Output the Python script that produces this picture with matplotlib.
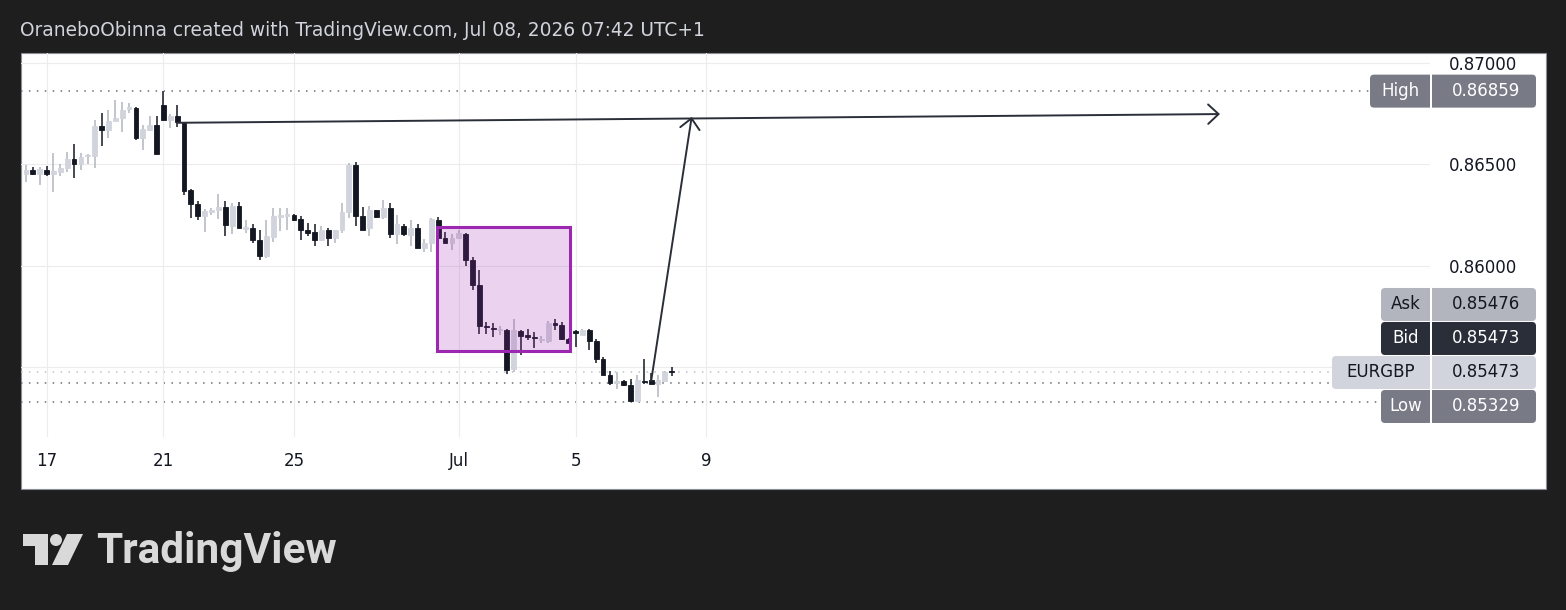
import matplotlib
matplotlib.use("Agg")
import matplotlib.pyplot as plt
from matplotlib.patches import Rectangle, FancyBboxPatch, Polygon, Circle

W, H, DPI = 1566, 610, 100

# EURGBP 4h candles
opens = [
    0.86451, 0.86470, 0.86451, 0.86470, 0.86451, 0.86461, 0.86480, 0.86525, 0.86500, 0.86539,
    0.86539, 0.86687, 0.86667, 0.86712, 0.86727, 0.86771, 0.86776, 0.86628, 0.86667, 0.86692,
    0.86791, 0.86717, 0.86736, 0.86702, 0.86372, 0.86303, 0.86244, 0.86264, 0.86273, 0.86288,
    0.86195, 0.86293, 0.86180, 0.86185, 0.86126, 0.86047, 0.86140, 0.86239, 0.86244, 0.86249,
    0.86229, 0.86175, 0.86165, 0.86126, 0.86175, 0.86135, 0.86175, 0.86264, 0.86495, 0.86244,
    0.86185, 0.86273, 0.86239, 0.86283, 0.86155, 0.86195, 0.86150, 0.86185, 0.86086, 0.86111,
    0.86224, 0.86135, 0.86111, 0.86135, 0.86155, 0.86027, 0.85904, 0.85702, 0.85692, 0.85682,
    0.85682, 0.85490, 0.85677, 0.85658, 0.85648, 0.85633, 0.85628, 0.85717, 0.85707, 0.85638,
    0.85677, 0.85658, 0.85682, 0.85628, 0.85539, 0.85461, 0.85421, 0.85431, 0.85411, 0.85333,
    0.85431, 0.85436, 0.85416, 0.85431, 0.85478]
highs = [
    0.86495, 0.86485, 0.86485, 0.86490, 0.86554, 0.86500, 0.86559, 0.86599, 0.86554, 0.86549,
    0.86717, 0.86751, 0.86766, 0.86815, 0.86805, 0.86800, 0.86781, 0.86692, 0.86736, 0.86736,
    0.86859, 0.86746, 0.86791, 0.86707, 0.86377, 0.86318, 0.86278, 0.86283, 0.86352, 0.86318,
    0.86308, 0.86313, 0.86224, 0.86204, 0.86175, 0.86224, 0.86283, 0.86283, 0.86283, 0.86254,
    0.86244, 0.86209, 0.86204, 0.86195, 0.86185, 0.86175, 0.86308, 0.86505, 0.86510, 0.86288,
    0.86293, 0.86273, 0.86323, 0.86308, 0.86249, 0.86204, 0.86224, 0.86204, 0.86131, 0.86234,
    0.86239, 0.86165, 0.86155, 0.86175, 0.86160, 0.86042, 0.85978, 0.85722, 0.85717, 0.85702,
    0.85687, 0.85736, 0.85682, 0.85687, 0.85672, 0.85653, 0.85727, 0.85736, 0.85722, 0.85643,
    0.85682, 0.85687, 0.85687, 0.85638, 0.85549, 0.85480, 0.85475, 0.85436, 0.85441, 0.85461,
    0.85539, 0.85470, 0.85461, 0.85480, 0.85500]
lows = [
    0.86411, 0.86446, 0.86397, 0.86441, 0.86362, 0.86441, 0.86461, 0.86431, 0.86470, 0.86500,
    0.86480, 0.86589, 0.86628, 0.86712, 0.86658, 0.86751, 0.86618, 0.86569, 0.86662, 0.86549,
    0.86717, 0.86677, 0.86682, 0.86347, 0.86234, 0.86224, 0.86165, 0.86249, 0.86229, 0.86145,
    0.86155, 0.86185, 0.86160, 0.86111, 0.86027, 0.86037, 0.86116, 0.86170, 0.86175, 0.86219,
    0.86126, 0.86145, 0.86096, 0.86121, 0.86096, 0.86111, 0.86160, 0.86234, 0.86195, 0.86175,
    0.86145, 0.86234, 0.86229, 0.86135, 0.86106, 0.86145, 0.86096, 0.86086, 0.86067, 0.86067,
    0.86135, 0.86111, 0.86076, 0.86131, 0.85998, 0.85879, 0.85663, 0.85663, 0.85648, 0.85658,
    0.85466, 0.85475, 0.85559, 0.85633, 0.85594, 0.85618, 0.85618, 0.85682, 0.85633, 0.85618,
    0.85599, 0.85658, 0.85584, 0.85520, 0.85461, 0.85411, 0.85392, 0.85406, 0.85329, 0.85333,
    0.85416, 0.85416, 0.85352, 0.85431, 0.85456]
closes = [
    0.86470, 0.86451, 0.86475, 0.86451, 0.86466, 0.86480, 0.86525, 0.86500, 0.86534, 0.86544,
    0.86687, 0.86667, 0.86712, 0.86727, 0.86766, 0.86781, 0.86628, 0.86672, 0.86692, 0.86549,
    0.86717, 0.86736, 0.86707, 0.86367, 0.86303, 0.86244, 0.86268, 0.86273, 0.86288, 0.86200,
    0.86293, 0.86185, 0.86190, 0.86126, 0.86047, 0.86145, 0.86244, 0.86249, 0.86254, 0.86224,
    0.86175, 0.86160, 0.86126, 0.86175, 0.86135, 0.86175, 0.86264, 0.86495, 0.86244, 0.86175,
    0.86273, 0.86239, 0.86283, 0.86155, 0.86204, 0.86155, 0.86185, 0.86086, 0.86111, 0.86229,
    0.86135, 0.86111, 0.86135, 0.86160, 0.86027, 0.85904, 0.85702, 0.85697, 0.85687, 0.85687,
    0.85485, 0.85682, 0.85653, 0.85648, 0.85643, 0.85638, 0.85717, 0.85707, 0.85638, 0.85618,
    0.85667, 0.85682, 0.85628, 0.85539, 0.85461, 0.85421, 0.85431, 0.85411, 0.85333, 0.85436,
    0.85426, 0.85416, 0.85436, 0.85475, 0.85473]

time_ticks = [3, 20, 39, 63, 80, 99]
time_labels = ["17", "21", "25", "Jul", "5", "9"]
price_ticks = [0.855, 0.860, 0.865, 0.870]
price_labels = ["", "0.86000", "0.86500", "0.87000"]

high_price = 0.86859
low_price = 0.85329
ask_price = 0.85476
bid_price = 0.85473
last_price = 0.85473
prev_price = 0.85421

# drawings on the chart (bar index, price)
zone_x = (59.8, 79.2)
zone_y = (0.85581, 0.86190)
target_line = [(22.0, 0.86703), (173.8, 0.86746)]
swing_arrow = [(91.0, 0.85431), (96.9, 0.86732)]

header = "OraneboObinna created with TradingView.com, Jul 08, 2026 07:42 UTC+1"

plt.rcParams["lines.scale_dashes"] = False
plt.rcParams["font.family"] = ["DejaVu Sans"]

BG = "#1e1e1e"
INK = "#131722"
UP = "#d1d4dc"
UP_WICK = "#b2b5be"
GRID = "#ececec"


def px_box(x0, y0, x1, y1):
    return [x0 / W, 1 - y1 / H, (x1 - x0) / W, (y1 - y0) / H]


fig = plt.figure(figsize=(W / DPI, H / DPI), dpi=DPI, facecolor=BG)

# background layer (pixel coords)
bg = fig.add_axes([0, 0, 1, 1], zorder=0)
bg.set_xlim(0, W)
bg.set_ylim(H, 0)
bg.axis("off")
bg.add_patch(Rectangle((20.5, 52.5), 1525, 436, facecolor="white",
                       edgecolor="#8a8d96", lw=0.8))

# price pane
ax = fig.add_axes(px_box(21, 53, 1430, 437), zorder=1)
ax.set_facecolor("none")
ax.set_xlim(-0.728, 204.37)
ax.set_ylim(0.851552, 0.870468)
for s in ax.spines.values():
    s.set_visible(False)
ax.set_xticks(time_ticks, time_labels)
ax.set_yticks(price_ticks, price_labels)
ax.yaxis.tick_right()
ax.tick_params(axis="x", length=0, pad=11, labelsize=12, labelcolor=INK)
ax.tick_params(axis="y", length=0, pad=13.5, labelsize=12, labelcolor=INK)
ax.grid(True, color=GRID, lw=0.8, zorder=0)

idx = list(range(len(opens)))
up = [c >= o for o, c in zip(opens, closes)]
wick_col = [UP_WICK if u else INK for u in up]
body_col = [UP if u else INK for u in up]
bottoms = [min(o, c) for o, c in zip(opens, closes)]
heights = [max(abs(c - o), 0.00005) for o, c in zip(opens, closes)]

ax.vlines(idx, lows, highs, colors=wick_col, lw=1.1, zorder=2)
ax.bar(idx, heights, bottom=bottoms, width=0.7, color=body_col,
       edgecolor=body_col, lw=0.6, zorder=3)

dots = (0, (1.1, 4.6))
for p, col in [(high_price, "#6a6d78"), (low_price, "#6a6d78"),
               (prev_price, "#6a6d78"), (last_price, "#bfc2c9")]:
    ax.axhline(p, color=col, lw=1.1, linestyle=dots, zorder=1)

ax.add_patch(Rectangle((zone_x[0], zone_y[0]), zone_x[1] - zone_x[0], zone_y[1] - zone_y[0],
                       facecolor=(156 / 255, 39 / 255, 176 / 255, 0.2),
                       edgecolor="#9c27b0", lw=2.2, zorder=5))

for (x0, y0), (x1, y1) in [target_line, swing_arrow]:
    ax.annotate("", xy=(x1, y1), xytext=(x0, y0),
                arrowprops=dict(arrowstyle="->,head_length=0.75,head_width=0.7",
                                color="#2a2e39", lw=1.4, shrinkA=0, shrinkB=0),
                zorder=6)

# overlay (pixel coords): header, price labels, logo
ov = fig.add_axes([0, 0, 1, 1], zorder=3)
ov.set_xlim(0, W)
ov.set_ylim(H, 0)
ov.axis("off")

ov.text(20, 31, header, color="#d1d4dc", fontsize=13.4, ha="left", va="center")


def price_to_px(p):
    return H - ax.transData.transform((0, p))[1]


bh = 34
y_last = price_to_px(last_price)
tags = [
    ("High", high_price, price_to_px(high_price), 1370, "#787b86", "white"),
    ("Ask", ask_price, y_last - 2 * bh, 1381, "#b2b5be", INK),
    ("Bid", bid_price, y_last - bh, 1381, "#2a2e39", "white"),
    ("EURGBP", last_price, y_last, 1332, UP, INK),
    ("Low", low_price, max(price_to_px(low_price), y_last + bh), 1381, "#787b86", "white"),
]
for name, val, yc, left, face, tc in tags:
    ov.add_patch(FancyBboxPatch((left, yc - bh / 2 + 0.5), 1536 - left, bh - 1,
                                boxstyle="round,pad=0,rounding_size=4",
                                facecolor=face, edgecolor="none"))
    ov.add_patch(Rectangle((1430, yc - bh / 2), 2, bh, facecolor="white", edgecolor="none"))
    ov.text((left + 1430) / 2, yc, name, color=tc, fontsize=12, ha="center", va="center")
    ov.text(1486, yc, f"{val:.5f}", color=tc, fontsize=12, ha="center", va="center")

# TradingView logo
LOGO = "#d9d9d9"
ov.add_patch(Rectangle((23, 534), 25, 12, facecolor=LOGO, edgecolor="none"))
ov.add_patch(Rectangle((35, 534), 13, 31, facecolor=LOGO, edgecolor="none"))
ov.add_patch(Circle((56, 540), 6, facecolor=LOGO, edgecolor="none"))
ov.add_patch(Polygon([(67, 534), (83, 534), (68, 565), (52, 565)],
                     closed=True, facecolor=LOGO, edgecolor="none"))
ov.text(96, 551, "TradingView", color=LOGO, fontsize=30.5, fontweight="bold",
        family=["Roboto", "DejaVu Sans"], ha="left", va="center")

fig.savefig("out.png", dpi=DPI, facecolor=BG)
